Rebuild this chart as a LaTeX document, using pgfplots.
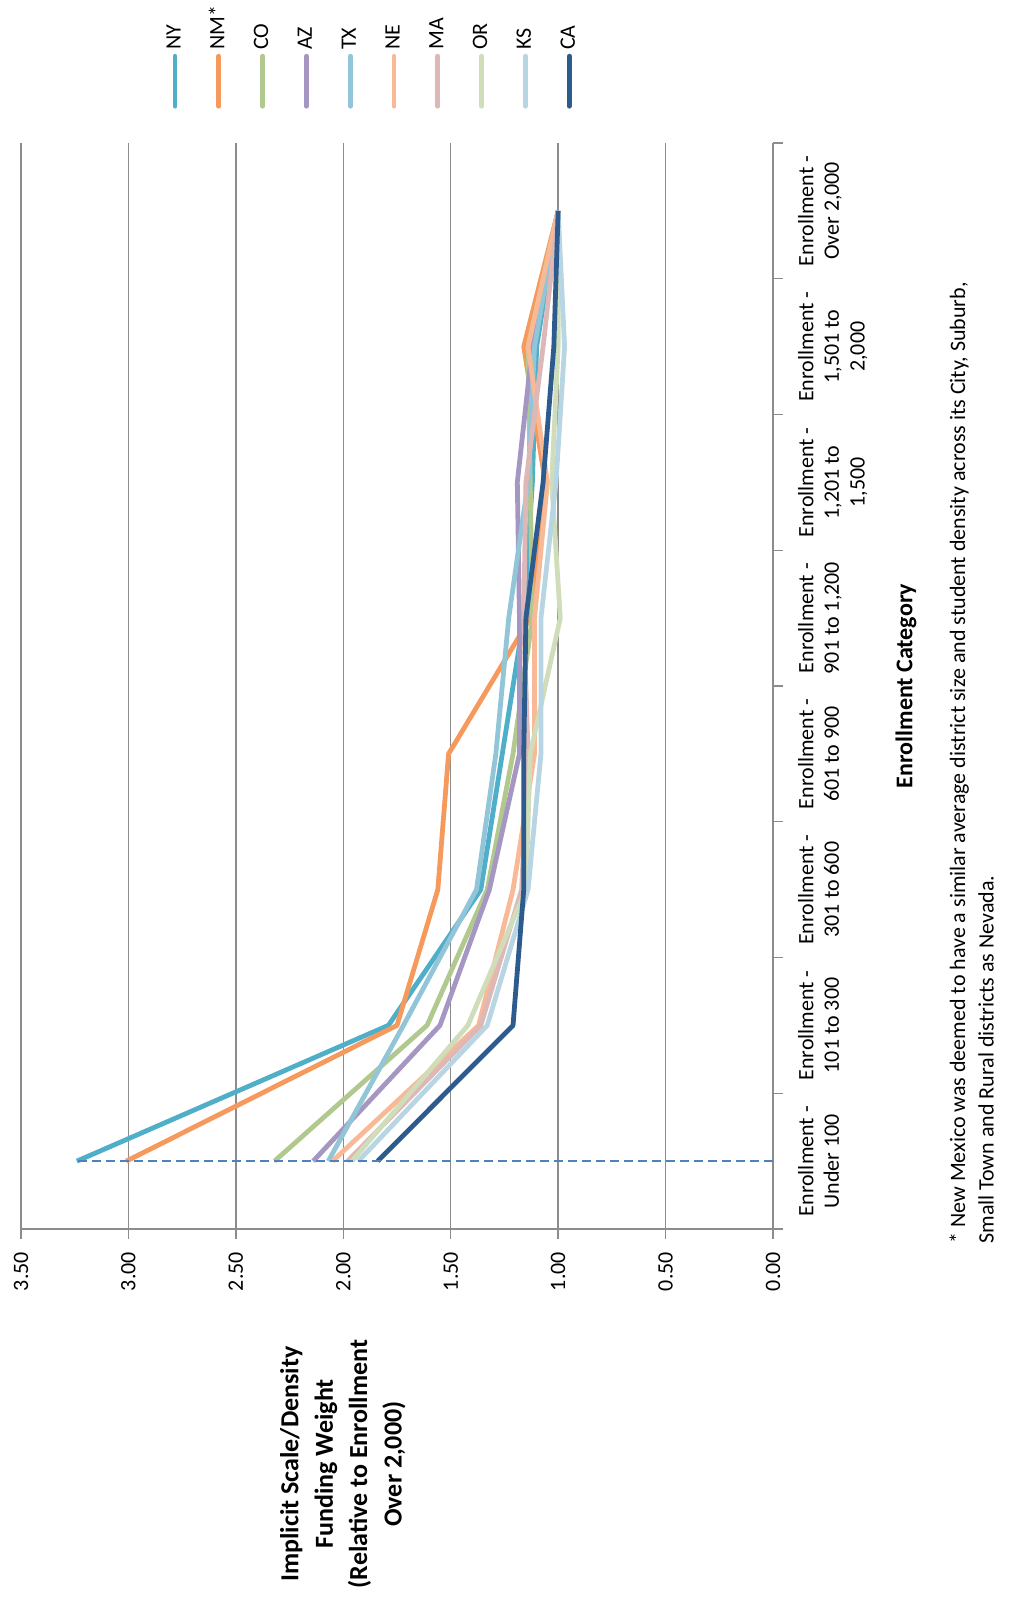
\documentclass[border=0pt]{standalone}
\usepackage{pgfplots}
\pgfplotsset{compat=1.18}
\usepackage{fontspec}
\setmainfont{Carlito}
\definecolor{cNY}{HTML}{4FAFC9}
\definecolor{cNM}{HTML}{F59A5C}
\definecolor{cCO}{HTML}{B1C98F}
\definecolor{cAZ}{HTML}{A597C2}
\definecolor{cTX}{HTML}{92C5D8}
\definecolor{cNE}{HTML}{F8B996}
\definecolor{cMA}{HTML}{DDB8B6}
\definecolor{cOR}{HTML}{D0DDBA}
\definecolor{cKS}{HTML}{B7D5E2}
\definecolor{cCA}{HTML}{2D5B8E}
\definecolor{cDash}{HTML}{4F81BD}
\definecolor{cGrid}{HTML}{8C8C8C}
\begin{document}
\begin{tikzpicture}[rotate=90, transform shape]
\path[use as bounding box] (-188.5pt,-120pt) rectangle (614.5pt,386.5pt);
\begin{axis}[
  at={(0pt,0pt)}, anchor=south west,
  scale only axis, width=543pt, height=376pt,
  xmin=-0.5, xmax=7.5, ymin=0, ymax=3.5,
  axis lines*=left,
  axis line style={cGrid, line width=0.7pt},
  xtick={0,...,7},
  xticklabels={{Enrollment -\\Under 100},{Enrollment -\\101 to 300},{Enrollment -\\301 to 600},{Enrollment -\\601 to 900},{Enrollment -\\901 to 1,200},{Enrollment -\\1,201 to\\1,500},{Enrollment -\\1,501 to\\2,000},{Enrollment -\\Over 2,000}},
  major x tick style={draw=none},
  minor xtick={-0.5,0.5,...,7.5},
  minor tick length=5pt,
  minor x tick style={cGrid, line width=0.7pt},
  xticklabel style={align=center, anchor=north, yshift=-4pt, font=\fontsize{11}{12.8}\selectfont},
  ytick={0,0.5,...,3.5},
  major tick length=5pt,
  tick align=outside,
  major y tick style={cGrid, line width=0.7pt},
  ymajorgrids,
  major grid style={cGrid, line width=0.65pt},
  /pgf/number format/assume math mode=true,
  yticklabel style={/pgf/number format/.cd, fixed, fixed zerofill, precision=2, /tikz/.cd, anchor=east, xshift=-3pt, font=\fontsize{11}{13}\selectfont},
  xlabel={Enrollment Category},
  xlabel style={at={(rel axis cs:0.5,0)}, anchor=center, yshift=-66.5pt, font=\fontsize{12}{14}\selectfont\bfseries},
  ylabel={Implicit Scale/Density\\Funding Weight\\(Relative to Enrollment\\Over 2,000)},
  ylabel style={at={(rel axis cs:0,0.572)}, anchor=center, rotate=-90, xshift=-117.5pt, align=center, font=\fontsize{13}{17.2}\selectfont\bfseries},
  legend style={at={(rel axis cs:1,0.533)}, anchor=west, xshift=14pt, draw=none, fill=none,
     row sep=9.4pt, column sep=1pt, font=\fontsize{11}{13}\selectfont,
     nodes={inner sep=1pt, text height=8pt, text depth=2.5pt}},
  legend cell align=left,
  legend image code/.code={\draw[#1, line cap=round] (0pt,0pt) -- (25pt,0pt);},
  every axis plot/.append style={line width=2.4pt, line join=round},
]
\addplot[cNY, no marks] table {
x y
0 3.24
1 1.79
2 1.36
3 1.26
4 1.16
5 1.12
6 1.10
7 1.00
};
\addlegendentry{NY}
\addplot[cNM, no marks] table {
x y
0 3.01
1 1.75
2 1.56
3 1.51
4 1.13
5 1.06
6 1.16
7 1.00
};
\addlegendentry{NM*}
\addplot[cCO, no marks] table {
x y
0 2.32
1 1.61
2 1.33
3 1.21
4 1.12
5 1.13
6 1.14
7 1.00
};
\addlegendentry{CO}
\addplot[cAZ, no marks] table {
x y
0 2.14
1 1.55
2 1.32
3 1.18
4 1.18
5 1.19
6 1.12
7 1.00
};
\addlegendentry{AZ}
\addplot[cTX, no marks] table {
x y
0 2.07
1 1.72
2 1.38
3 1.29
4 1.23
5 1.14
6 1.11
7 1.00
};
\addlegendentry{TX}
\addplot[cNE, no marks] table {
x y
0 2.05
1 1.37
2 1.21
3 1.11
4 1.11
5 1.05
6 1.14
7 1.00
};
\addlegendentry{NE}
\addplot[cMA, no marks] table {
x y
0 1.98
1 1.36
2 1.17
3 1.14
4 1.16
5 1.15
6 1.07
7 1.00
};
\addlegendentry{MA}
\addplot[cOR, no marks] table {
x y
0 1.96
1 1.42
2 1.15
3 1.13
4 0.99
5 1.03
6 1.00
7 1.00
};
\addlegendentry{OR}
\addplot[cKS, no marks] table {
x y
0 1.93
1 1.33
2 1.14
3 1.08
4 1.08
5 1.01
6 0.97
7 1.00
};
\addlegendentry{KS}
\addplot[cCA, no marks] table {
x y
0 1.84
1 1.21
2 1.16
3 1.16
4 1.15
5 1.07
6 1.02
7 1.00
};
\addlegendentry{CA}
\addplot[cDash, no marks, line width=1.3pt, dash pattern=on 4.5pt off 2.5pt, forget plot] coordinates {(0,0) (0,3.24)};
\end{axis}
\node[anchor=north west, align=left, inner sep=0pt, font=\fontsize{11}{14.3}\selectfont] at (-7.5pt,-88pt)
 {* New Mexico was deemed to have a similar average district size and student density across its City, Suburb,\\Small Town and Rural districts as Nevada.};
\end{tikzpicture}
\end{document}
